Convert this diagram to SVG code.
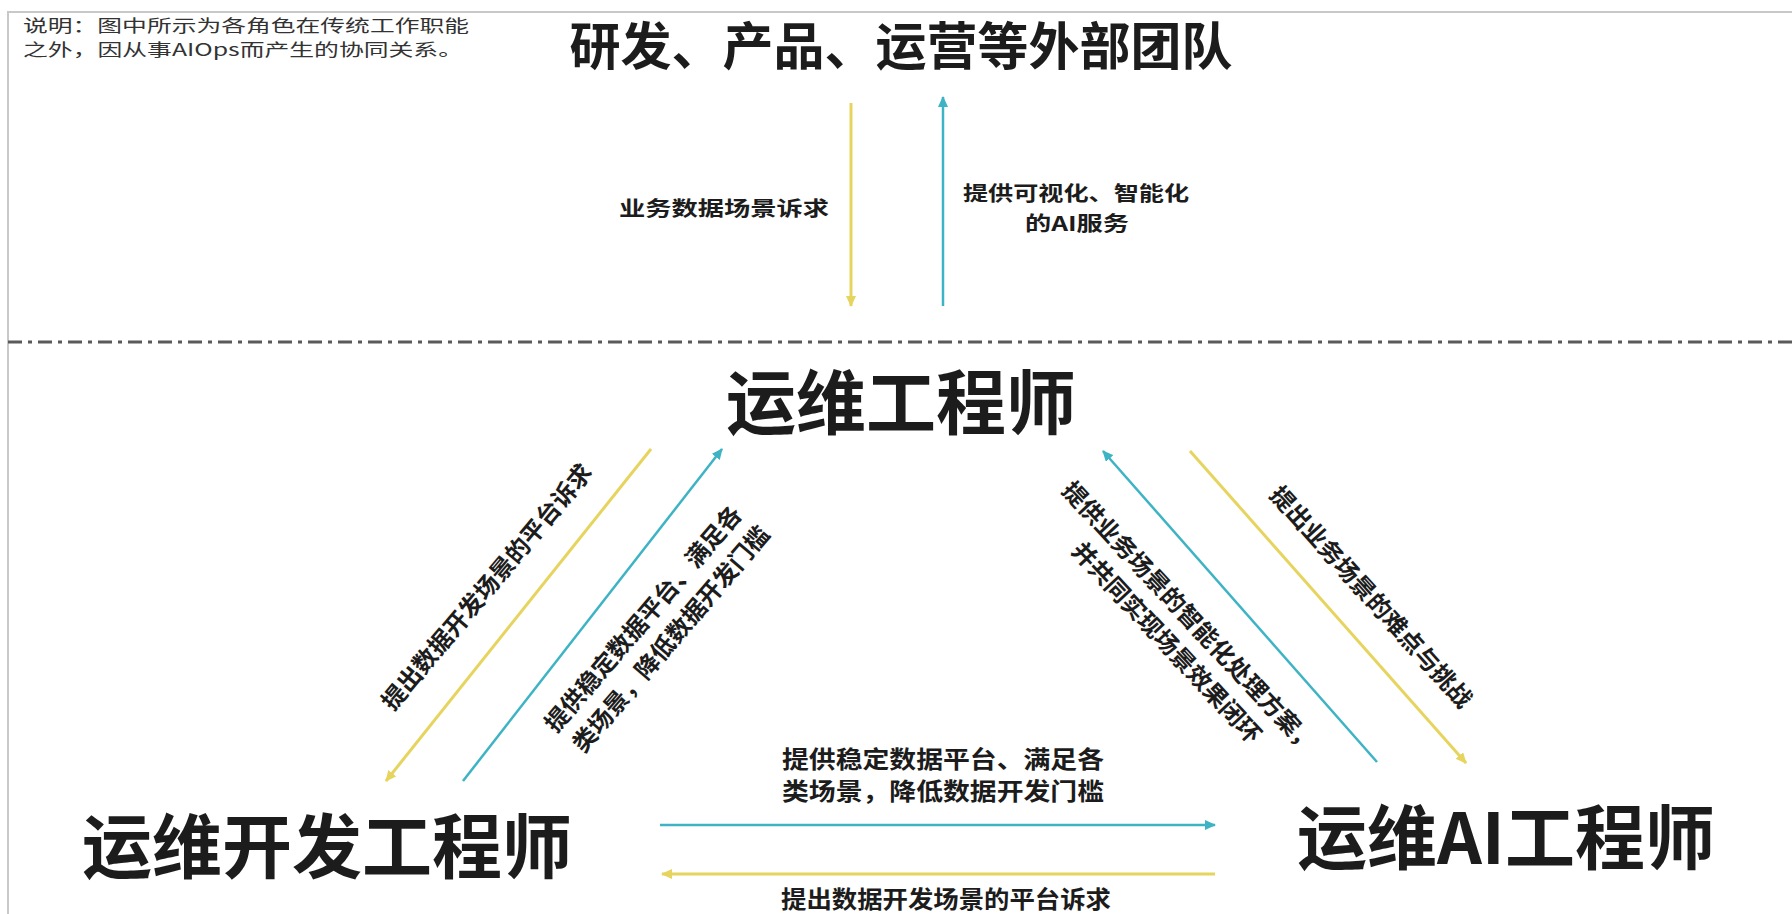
<svg xmlns="http://www.w3.org/2000/svg" width="1792" height="914" viewBox="0 0 1792 914">
  <style>
    .cjk { font-family: "Noto Sans CJK SC", "Noto Sans", sans-serif; }
    .note { font-size: 17px; fill: #333333; }
    .big { font-size: 70px; font-weight: 700; fill: #1c1c1c; }
    .title { font-size: 51px; font-weight: 700; fill: #1c1c1c; }
    .lbl { font-size: 24px; font-weight: 700; fill: #1c1c1c; }
    .sm { font-size: 20px; }
    .y { stroke: #e6d45e; stroke-width: 3; fill: none; }
    .t { stroke: #3db3c4; stroke-width: 2.5; fill: none; }
    .frame { stroke: #c8c8c8; stroke-width: 2; fill: none; }
    .sep { stroke: #5a5a5a; stroke-width: 3; stroke-dasharray: 14 6 4 6; fill: none; }
  </style>
  <defs>
    <marker id="ay" markerUnits="userSpaceOnUse" markerWidth="12" markerHeight="10" refX="10" refY="5" orient="auto">
      <path d="M0,0 L11,5 L0,10 z" fill="#e6d45e"/>
    </marker>
    <marker id="at" markerUnits="userSpaceOnUse" markerWidth="12" markerHeight="10" refX="10" refY="5" orient="auto">
      <path d="M0,0 L11,5 L0,10 z" fill="#3db3c4"/>
    </marker>
  </defs>
  <rect width="1792" height="914" fill="#ffffff"/>
  <path class="frame" d="M8,914 V12 H1792"/>
  <line class="sep" x1="8" y1="342" x2="1792" y2="342"/>

  <g id="note" class="cjk note">
    <text x="23" y="32" textLength="446" lengthAdjust="spacingAndGlyphs">说明：图中所示为各角色在传统工作职能</text>
    <text x="23" y="56" textLength="440" lengthAdjust="spacingAndGlyphs">之外，因从事AIOps而产生的协同关系。</text>
  </g>

  <g id="external-teams">
    <text class="cjk title" x="901" y="65" text-anchor="middle">研发、产品、运营等外部团队</text>
  </g>
  <g id="ops-engineer">
    <text class="cjk big" x="901" y="429" text-anchor="middle">运维工程师</text>
  </g>
  <g id="ops-dev-engineer">
    <text class="cjk big" x="327" y="873" text-anchor="middle">运维开发工程师</text>
  </g>
  <g id="ops-ai-engineer">
    <text class="cjk big" x="1506" y="864" text-anchor="middle">运维AI工程师</text>
  </g>

  <g id="connectors">
    <line class="y" x1="851" y1="103" x2="851" y2="306" marker-end="url(#ay)"/>
    <line class="t" x1="943" y1="306" x2="943" y2="97" marker-end="url(#at)"/>
    <line class="y" x1="651" y1="449" x2="386" y2="781" marker-end="url(#ay)"/>
    <line class="t" x1="463" y1="781" x2="722" y2="449" marker-end="url(#at)"/>
    <line class="t" x1="1377" y1="762" x2="1103" y2="451" marker-end="url(#at)"/>
    <line class="y" x1="1190" y1="451" x2="1466" y2="763" marker-end="url(#ay)"/>
    <line class="t" x1="660" y1="825" x2="1215" y2="825" marker-end="url(#at)"/>
    <line class="y" x1="1215" y1="874" x2="662" y2="874" marker-end="url(#ay)"/>
  </g>

  <g id="connector-labels" class="cjk lbl">
    <text class="sm" x="829" y="216" text-anchor="end" textLength="210" lengthAdjust="spacingAndGlyphs">业务数据场景诉求</text>
    <text class="sm" x="1076" y="201" text-anchor="middle" textLength="226" lengthAdjust="spacingAndGlyphs">提供可视化、智能化</text>
    <text class="sm" x="1077" y="231" text-anchor="middle" textLength="104" lengthAdjust="spacingAndGlyphs">的AI服务</text>

    <text transform="translate(487,587) rotate(-50)" x="0" y="8.5" text-anchor="middle">提出数据开发场景的平台诉求</text>
    <text transform="translate(658,628) rotate(-49.5)" text-anchor="middle">
      <tspan x="0" y="-8.5">提供稳定数据平台、满足各</tspan>
      <tspan x="0" y="25.5">类场景，降低数据开发门槛</tspan>
    </text>

    <text transform="translate(1179,631) rotate(47)" text-anchor="middle">
      <tspan x="0" y="-8.5">提供业务场景的智能化处理方案，</tspan>
      <tspan x="0" y="25.5">并共同实现场景效果闭环</tspan>
    </text>
    <text transform="translate(1371,597) rotate(48)" x="0" y="8.5" text-anchor="middle">提出业务场景的难点与挑战</text>

    <text x="943" y="768" text-anchor="middle" textLength="322" lengthAdjust="spacingAndGlyphs">提供稳定数据平台、满足各</text>
    <text x="943" y="800" text-anchor="middle" textLength="322" lengthAdjust="spacingAndGlyphs">类场景，降低数据开发门槛</text>
    <text x="946" y="908" text-anchor="middle" textLength="330" lengthAdjust="spacingAndGlyphs">提出数据开发场景的平台诉求</text>
  </g>
</svg>
